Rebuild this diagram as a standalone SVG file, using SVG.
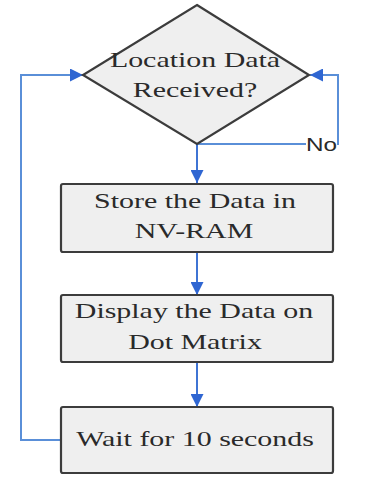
<svg xmlns="http://www.w3.org/2000/svg" width="381" height="477" viewBox="0 0 381 477">
  <defs>
    <style>
      .shape { fill: #efefef; stroke: #3c3c3c; stroke-width: 2.2; }
      .lbl { font-family: "Liberation Serif", "Times New Roman", serif; font-size: 22px; fill: #2a2a2a; text-anchor: middle; }
      .no { font-family: "Liberation Sans", Arial, sans-serif; font-size: 18px; fill: #2a2a2a; }
      .conn { fill: none; stroke: #3f74d4; stroke-width: 2; }
      .loop { fill: none; stroke: #5a8fd8; stroke-width: 2; }
    </style>
    <marker id="arrowL" viewBox="0 0 10 10" refX="10" refY="5" markerWidth="17" markerHeight="13" markerUnits="userSpaceOnUse" orient="auto">
      <path d="M0,0 L10,5 L0,10 z" fill="#2f66d2"/>
    </marker>
  </defs>
  <rect width="381" height="477" fill="#ffffff"/>

  <g id="connectors">
    <path class="conn" d="M197,144 V183" marker-end="url(#arrowL)"/>
    <path class="conn" d="M197,252 V295" marker-end="url(#arrowL)"/>
    <path class="conn" d="M197,362 V407" marker-end="url(#arrowL)"/>
    <path class="loop" d="M60,440 H21 V75 H83" marker-end="url(#arrowL)"/>
    <path class="loop" d="M197,144 H306"/>
    <path class="loop" d="M337,144 H338 V75 H310" marker-end="url(#arrowL)"/>
    <text class="no" transform="translate(306,151) scale(1.35,1)">No</text>
  </g>

  <g id="decision">
    <polygon class="shape" points="197,5 309,75 197,144 83,75"/>
    <text class="lbl" transform="translate(195,67) scale(1.36,1)">Location Data</text>
    <text class="lbl" transform="translate(195,97) scale(1.36,1)">Received?</text>
  </g>

  <g id="store">
    <rect class="shape" x="61" y="184" width="272" height="68" rx="2"/>
    <text class="lbl" transform="translate(195,208) scale(1.36,1)">Store the Data in</text>
    <text class="lbl" transform="translate(194,238) scale(1.36,1)">NV-RAM</text>
  </g>

  <g id="display">
    <rect class="shape" x="61" y="295" width="272" height="67" rx="2"/>
    <text class="lbl" transform="translate(194,318) scale(1.36,1)">Display the Data on</text>
    <text class="lbl" transform="translate(195,349) scale(1.36,1)">Dot Matrix</text>
  </g>

  <g id="wait">
    <rect class="shape" x="61" y="407" width="272" height="66" rx="2"/>
    <text class="lbl" transform="translate(195,446) scale(1.36,1)">Wait for 10 seconds</text>
  </g>
</svg>
